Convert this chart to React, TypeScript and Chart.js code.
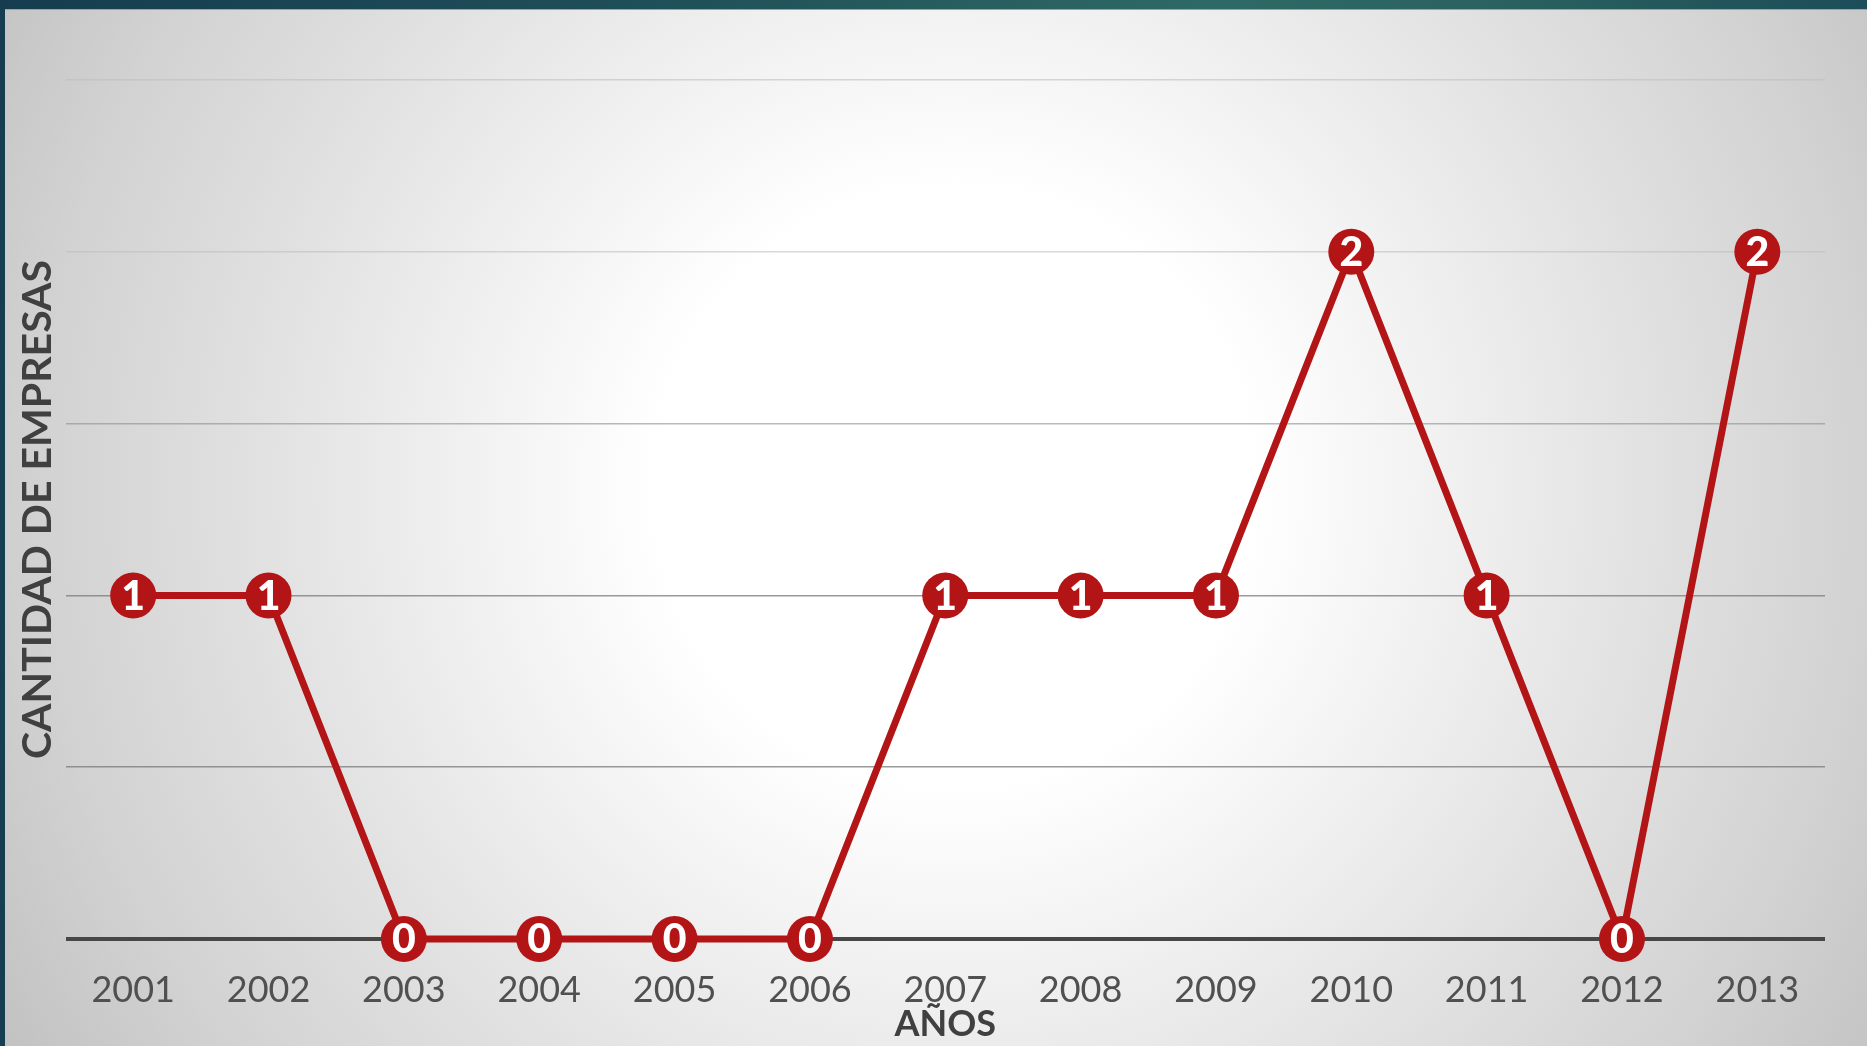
import React, { useEffect, useRef } from "react";
import { Chart, registerables } from "chart.js";

Chart.register(...registerables);

const years = ["2001", "2002", "2003", "2004", "2005", "2006", "2007", "2008", "2009", "2010", "2011", "2012", "2013"];
const empresas = [1, 1, 0, 0, 0, 0, 1, 1, 1, 2, 1, 0, 2];
const yMin = 0;
const yMax = 2.5;
const yStep = 0.5;
const xTitle = "AÑOS";
const yTitle = "CANTIDAD DE EMPRESAS";

const RED = "#B31517";
const FONT = "Lato, 'Open Sans', 'DejaVu Sans', sans-serif";

const pointLabels = {
  id: "pointLabels",
  afterDatasetsDraw(chart: any) {
    const ctx = chart.ctx;
    chart.data.datasets.forEach((ds: any, di: number) => {
      const meta = chart.getDatasetMeta(di);
      meta.data.forEach((pt: any, i: number) => {
        ctx.save();
        ctx.fillStyle = "#ffffff";
        ctx.font = `900 41px ${FONT}`;
        ctx.textAlign = "center";
        ctx.textBaseline = "middle";
        ctx.fillText(String(ds.data[i]), pt.x, pt.y + 1);
        ctx.restore();
      });
    });
  },
};

function gridColor(v: number) {
  if (v === 0) return "#474747";
  if (v <= 1) return "rgba(120,120,120,0.75)";
  if (v <= 1.5) return "rgba(140,140,140,0.6)";
  return "rgba(190,190,190,0.6)";
}

export default function App() {
  const ref = useRef<HTMLCanvasElement | null>(null);

  useEffect(() => {
    if (!ref.current) return;
    const chart = new Chart(ref.current, {
      type: "line",
      data: {
        labels: years,
        datasets: [
          {
            data: empresas,
            borderColor: RED,
            backgroundColor: RED,
            borderWidth: 7,
            pointRadius: 23,
            pointHoverRadius: 23,
            pointBackgroundColor: RED,
            pointBorderWidth: 0,
            tension: 0,
            clip: false as any,
          },
        ],
      },
      options: {
        responsive: false,
        animation: false,
        devicePixelRatio: 1,
        layout: { padding: { left: 0, top: 80, right: 42, bottom: 4 } },
        plugins: { legend: { display: false }, tooltip: { enabled: false } },
        scales: {
          x: {
            offset: true,
            grid: { display: false, drawTicks: false },
            border: { display: false },
            ticks: {
              color: "#505050",
              font: { family: FONT, size: 36, lineHeight: 1 },
              padding: 33,
              maxRotation: 0,
            },
            title: {
              display: true,
              text: xTitle,
              color: "#404040",
              font: { family: FONT, size: 36, weight: "bold", lineHeight: 1 },
              padding: { top: -35, bottom: 0 },
            },
          },
          y: {
            min: yMin,
            max: yMax,
            ticks: { display: false, stepSize: yStep },
            grid: {
              drawTicks: false,
              color: (c: any) => gridColor(c.tick.value),
              lineWidth: (c: any) => (c.tick.value === 0 ? 4 : 1.5),
            },
            border: { display: false },
            title: {
              display: true,
              text: yTitle,
              color: "#404040",
              font: { family: FONT, size: 41, weight: "bold", lineHeight: 1 },
              padding: { top: 17, bottom: 7.5 },
            },
          },
        },
      },
      plugins: [pointLabels],
    });
    return () => chart.destroy();
  }, []);

  return (
    <div
      style={{
        position: "absolute",
        left: 0,
        top: 0,
        width: 1867,
        height: 1046,
        background: "#163e50",
        overflow: "hidden",
      }}
    >
      <div
        style={{
          position: "absolute",
          left: 0,
          top: 0,
          width: 1867,
          height: 9,
          background: "linear-gradient(to right, #153d4f 0%, #1f4f58 35%, #2e6a65 65%, #2a625f 80%, #1d4d59 100%)",
        }}
      />
      <div
        style={{
          position: "absolute",
          left: 5,
          top: 9,
          right: 0,
          bottom: 0,
          borderTop: "1px solid #9aa3a3",
          background:
            "radial-gradient(circle farthest-corner at 51% 46%, #ffffff 0%, #ffffff 27%, #f1f1f1 44%, #dfdfdf 66%, #d2d2d2 83%, #c2c2c2 100%)",
        }}
      />
      <canvas
        ref={ref}
        width={1867}
        height={1046}
        style={{ position: "absolute", left: 0, top: 0, width: 1867, height: 1046 }}
      />
    </div>
  );
}
